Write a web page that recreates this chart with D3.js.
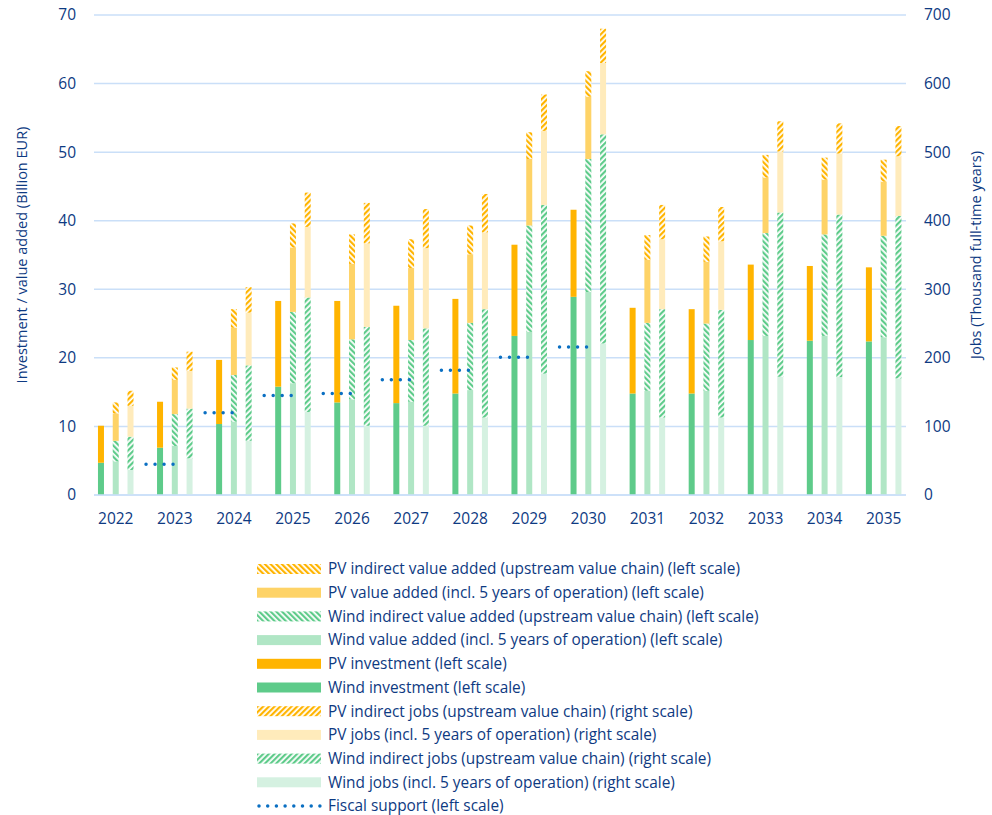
<!DOCTYPE html>
<html>
<head>
<meta charset="utf-8">
<script src="https://cdn.jsdelivr.net/npm/d3@7"></script>
<style>
  body { margin: 0; background: #fff; }
  text { font-family: "Open Sans", sans-serif; fill: #0e3a82; }
</style>
</head>
<body>
<div id="viz"></div>
<script>
// categories
const years = ["2022", "2023", "2024", "2025", "2026", "2027", "2028", "2029", "2030", "2031", "2032", "2033", "2034", "2035"];

// investment (billion EUR, left scale)
const windInvestment = [4.7, 6.9, 10.35, 15.8, 13.5, 13.4, 14.8, 23.2, 28.9, 14.8, 14.8, 22.6, 22.5, 22.4];
const pvInvestment = [5.4, 6.7, 9.35, 12.5, 14.8, 14.2, 13.8, 13.3, 12.7, 12.5, 12.3, 11.0, 10.9, 10.8];

// value added (billion EUR, left scale)
const windValueAdded = [4.9, 7.15, 10.7, 16.3, 13.95, 13.6, 15.3, 23.8, 29.6, 15.2, 15.2, 23.2, 23.2, 23.0];
const windIndirectVA = [3.0, 4.65, 6.8, 10.4, 8.75, 9.0, 9.8, 15.5, 19.4, 9.9, 9.8, 15.0, 14.8, 14.8];
const pvValueAdded = [4.0, 5.0, 6.9, 9.4, 11.0, 10.5, 10.0, 9.7, 9.1, 9.2, 9.0, 8.1, 8.0, 7.9];
const pvIndirectVA = [1.6, 1.8, 2.7, 3.5, 4.3, 4.2, 4.2, 3.9, 3.7, 3.6, 3.7, 3.3, 3.2, 3.2];

// jobs (thousand full-time years, right scale)
const windJobs = [36.5, 53.5, 79, 121, 101, 101, 113, 177, 221, 113, 113, 172.5, 172, 170];
const windIndirectJobs = [48.5, 72.5, 110, 167, 144, 142, 158, 246, 305, 158, 157, 239.5, 237, 237];
const pvJobs = [45, 55, 77, 103, 122, 117, 112, 108, 104, 102, 100, 89, 89, 87];
const pvIndirectJobs = [22, 28, 37, 50, 59, 57, 56, 53, 50, 50, 50, 44, 44, 44];

// fiscal support (billion EUR, left scale)
const fiscalSupport = [null, 4.5, 12.0, 14.5, 14.8, 16.8, 18.2, 20.1, 21.6, null, null, null, null, null];

const leftTicks = [0, 10, 20, 30, 40, 50, 60, 70];
const rightTicks = [0, 100, 200, 300, 400, 500, 600, 700];

const W = 992, H = 815;
const navy = "#0e3a82";
const gridColor = "#cadff8";

const svg = d3.select("#viz").append("svg")
    .attr("width", W)
    .attr("height", H);

// patterns for the indirect parts
const defs = svg.append("defs");
function stripes(id, color, angle) {
    const p = defs.append("pattern")
        .attr("id", id)
        .attr("patternUnits", "userSpaceOnUse")
        .attr("width", 4)
        .attr("height", 4)
        .attr("patternTransform", `rotate(${angle})`);
    p.append("rect").attr("width", 4).attr("height", 4).attr("fill", "#fff");
    p.append("rect").attr("width", 2.2).attr("height", 4).attr("fill", color);
}
stripes("pvIndVA", "#ffb400", -45);
stripes("windIndVA", "#5ecb8a", -45);
stripes("pvIndJobs", "#ffb400", 45);
stripes("windIndJobs", "#5ecb8a", 45);

// scales
const x = d3.scaleBand().domain(years).range([86.2, 913.2]).padding(0);
const inner = d3.scaleBand().domain(["inv", "va", "jobs"]).range([-22.15, 22.15]).padding(0);
const yLeft = d3.scaleLinear().domain([0, 70]).range([495, 15]);
const yRight = d3.scaleLinear().domain([0, 700]).range([495, 15]);
const barW = 6;

// gridlines
svg.append("g")
    .selectAll("line")
    .data(leftTicks)
    .join("line")
    .attr("x1", 94).attr("x2", 906)
    .attr("y1", d => yLeft(d)).attr("y2", d => yLeft(d))
    .attr("stroke", gridColor)
    .attr("stroke-width", 1.5);

// axes
const leftAxis = svg.append("g")
    .attr("transform", "translate(76,0)")
    .call(d3.axisLeft(yLeft).tickValues(leftTicks).tickSize(0).tickPadding(0));
const rightAxis = svg.append("g")
    .attr("transform", "translate(924,0)")
    .call(d3.axisRight(yRight).tickValues(rightTicks).tickSize(0).tickPadding(0));
const bottomAxis = svg.append("g")
    .attr("transform", "translate(0,495)")
    .call(d3.axisBottom(x).tickSize(0).tickPadding(18));
[leftAxis, rightAxis, bottomAxis].forEach(a => {
    a.select(".domain").remove();
    a.selectAll("text").attr("font-size", 15.5).attr("fill", navy).style("font-family", "'Open Sans', sans-serif");
});

// stacked bars
const groups = [
    { key: "inv", scale: yLeft, series: [
        { values: windInvestment, fill: "#5ecb8a" },
        { values: pvInvestment, fill: "#ffb400" }
    ]},
    { key: "va", scale: yLeft, series: [
        { values: windValueAdded, fill: "#b0e6c5" },
        { values: windIndirectVA, fill: "url(#windIndVA)" },
        { values: pvValueAdded, fill: "#fed367" },
        { values: pvIndirectVA, fill: "url(#pvIndVA)" }
    ]},
    { key: "jobs", scale: yRight, series: [
        { values: windJobs, fill: "#d5f1e1" },
        { values: windIndirectJobs, fill: "url(#windIndJobs)" },
        { values: pvJobs, fill: "#ffebbb" },
        { values: pvIndirectJobs, fill: "url(#pvIndJobs)" }
    ]}
];

const barsG = svg.append("g");
groups.forEach(g => {
    const keys = g.series.map((s, i) => "s" + i);
    const table = years.map((yr, j) => {
        const row = { year: yr };
        g.series.forEach((s, i) => row["s" + i] = s.values[j]);
        return row;
    });
    const stacked = d3.stack().keys(keys)(table);
    stacked.forEach((layer, i) => {
        barsG.append("g")
            .attr("fill", g.series[i].fill)
            .selectAll("rect")
            .data(layer)
            .join("rect")
            .attr("x", d => x(d.data.year) + x.bandwidth() / 2 + inner(g.key) + inner.bandwidth() / 2 - barW / 2)
            .attr("width", barW)
            .attr("y", d => g.scale(d[1]))
            .attr("height", d => g.scale(d[0]) - g.scale(d[1]));
    });
});

// bottom axis line
svg.append("line")
    .attr("x1", 94).attr("x2", 906)
    .attr("y1", 495).attr("y2", 495)
    .attr("stroke", gridColor)
    .attr("stroke-width", 1.5);

// fiscal support dotted segments
const invCenter = yr => x(yr) + x.bandwidth() / 2 + inner("inv") + inner.bandwidth() / 2;
svg.append("g")
    .selectAll("line")
    .data(years.map((yr, i) => ({ year: yr, v: fiscalSupport[i] })).filter(d => d.v !== null))
    .join("line")
    .attr("x1", d => invCenter(d.year) - 14)
    .attr("x2", d => invCenter(d.year) + 14)
    .attr("y1", d => yLeft(d.v))
    .attr("y2", d => yLeft(d.v))
    .attr("stroke", "#0a6fc2")
    .attr("stroke-width", 3.5)
    .attr("stroke-linecap", "round")
    .attr("stroke-dasharray", "0,9");

// axis titles
svg.append("text")
    .attr("transform", "translate(27,255) rotate(-90)")
    .attr("text-anchor", "middle")
    .attr("font-size", 14.5)
    .text("Investment / value added (Billion EUR)");
svg.append("text")
    .attr("transform", "translate(981,255) rotate(-90)")
    .attr("text-anchor", "middle")
    .attr("font-size", 14.5)
    .text("Jobs (Thousand full-time years)");

// legend
const legendItems = [
    { label: "PV indirect value added (upstream value chain) (left scale)", fill: "url(#pvIndVA)" },
    { label: "PV value added (incl. 5 years of operation) (left scale)", fill: "#fed367" },
    { label: "Wind indirect value added (upstream value chain) (left scale)", fill: "url(#windIndVA)" },
    { label: "Wind value added (incl. 5 years of operation) (left scale)", fill: "#b0e6c5" },
    { label: "PV investment (left scale)", fill: "#ffb400" },
    { label: "Wind investment (left scale)", fill: "#5ecb8a" },
    { label: "PV indirect jobs (upstream value chain) (right scale)", fill: "url(#pvIndJobs)" },
    { label: "PV jobs (incl. 5 years of operation) (right scale)", fill: "#ffebbb" },
    { label: "Wind indirect jobs (upstream value chain) (right scale)", fill: "url(#windIndJobs)" },
    { label: "Wind jobs (incl. 5 years of operation) (right scale)", fill: "#d5f1e1" },
    { label: "Fiscal support (left scale)", line: true }
];
const legend = svg.append("g");
const rows = legend.selectAll("g")
    .data(legendItems)
    .join("g")
    .attr("transform", (d, i) => `translate(257,${569 + i * 23.7})`);
rows.filter(d => !d.line).append("rect")
    .attr("x", 0).attr("y", -5)
    .attr("width", 64).attr("height", 10)
    .attr("fill", d => d.fill);
rows.filter(d => d.line).append("line")
    .attr("x1", 2).attr("x2", 63)
    .attr("stroke", "#0a6fc2")
    .attr("stroke-width", 3.5)
    .attr("stroke-linecap", "round")
    .attr("stroke-dasharray", "0,8.7");
rows.append("text")
    .attr("x", 71)
    .attr("dy", "0.35em")
    .attr("font-size", 15.4)
    .text(d => d.label);
</script>
</body>
</html>
